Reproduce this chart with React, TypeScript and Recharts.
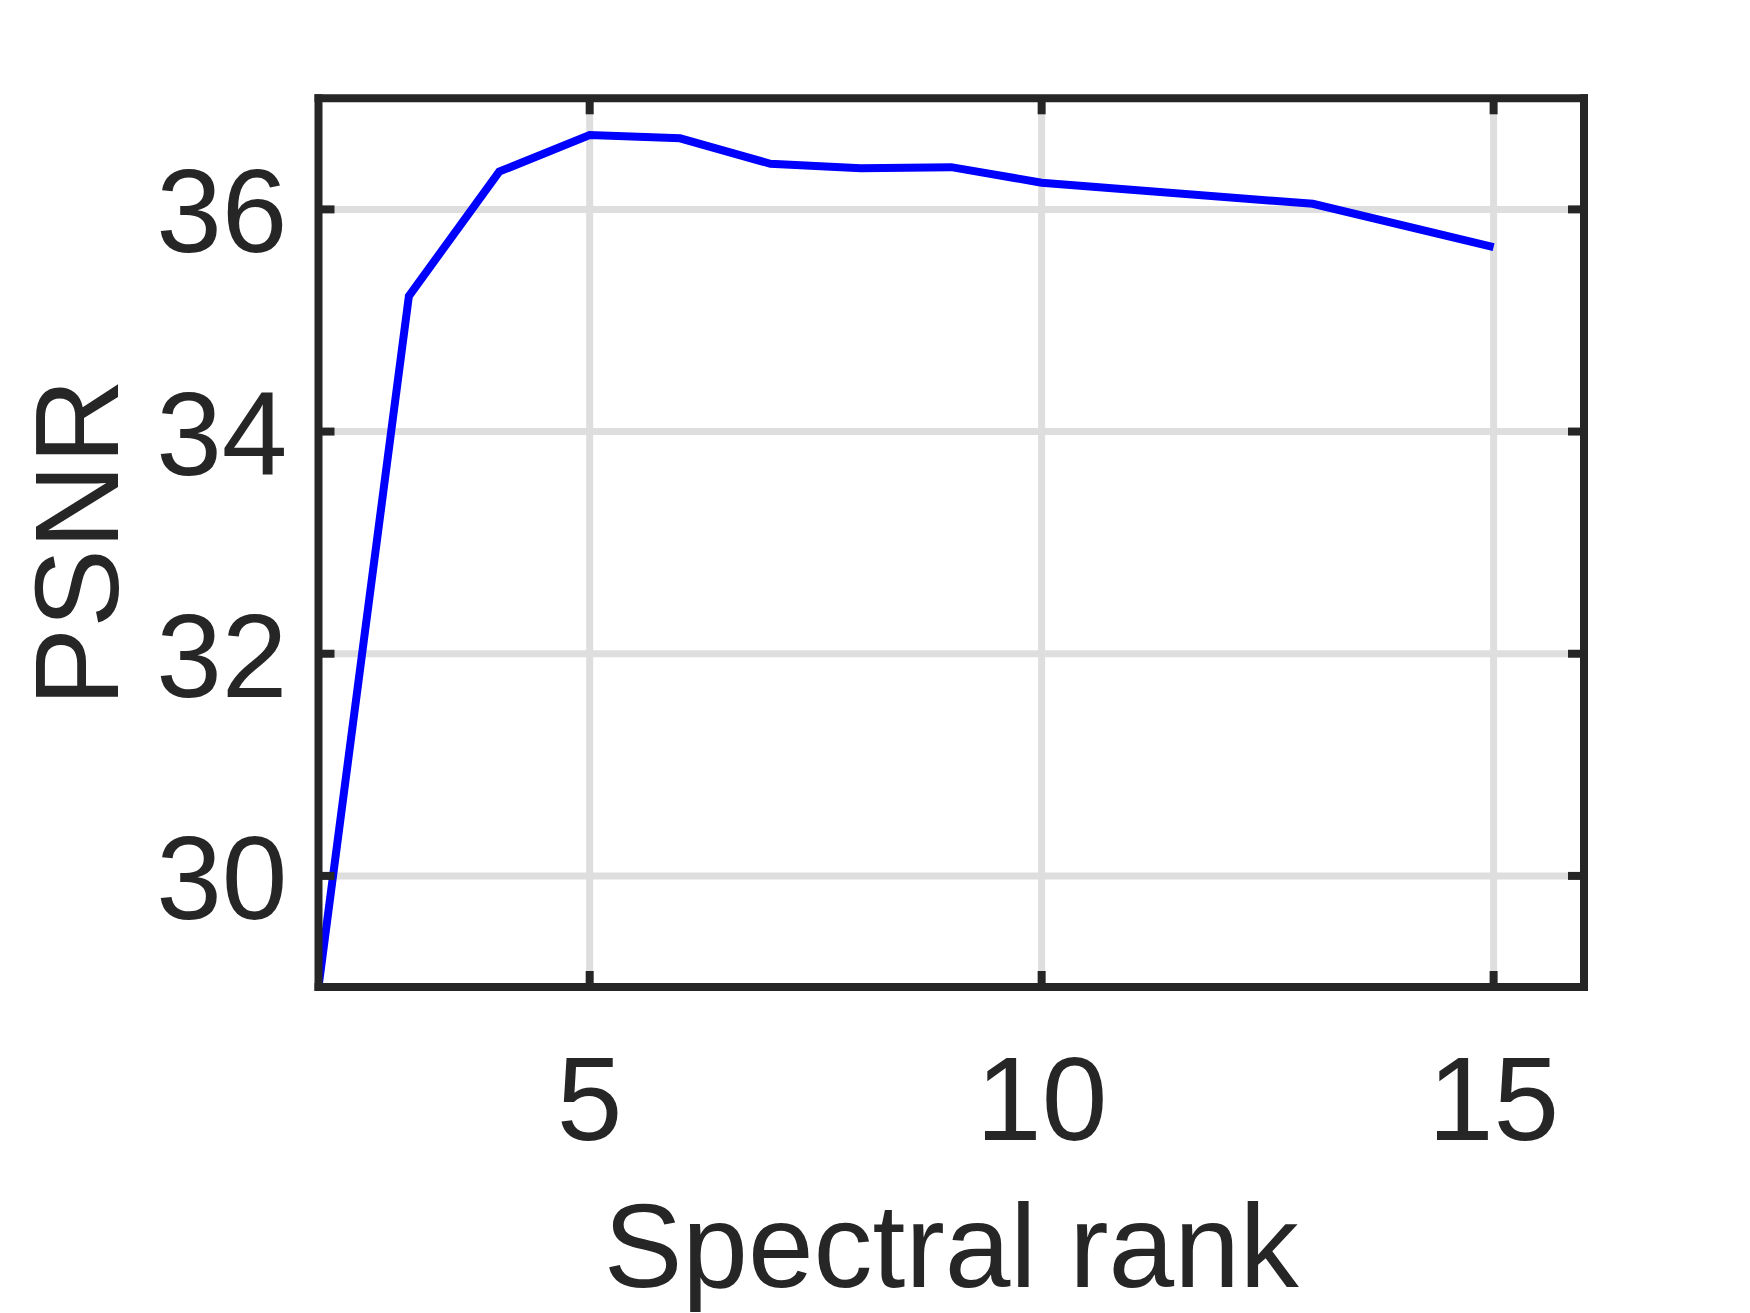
import React from "react";
import {
  LineChart,
  Line,
  XAxis,
  YAxis,
  CartesianGrid,
  Label,
} from "recharts";

const RANKS = [2, 3, 4, 5, 6, 7, 8, 9, 10, 13, 15];
const PSNR = [29.0, 35.22, 36.34, 36.67, 36.64, 36.41, 36.37, 36.38, 36.24, 36.05, 35.66];
const X_TICKS = [5, 10, 15];
const Y_TICKS = [30, 32, 34, 36];
const X_DOMAIN = [2, 16];
const Y_DOMAIN = [29, 37];

const data = RANKS.map((rank, i) => ({ rank, psnr: PSNR[i] }));

const INK = "#262626";
const FONT = "'Liberation Sans', Arial, Helvetica, sans-serif";
const FONT_SIZE = 118;
const TICK_LEN = 16;
const AXIS_W = 8;

const LeftTick = (props: any) => {
  const { x, y, payload } = props;
  return (
    <g>
      <line x1={x} x2={x + TICK_LEN} y1={y} y2={y} stroke={INK} strokeWidth={AXIS_W} />
      <text
        x={x - 31}
        y={y + 43}
        textAnchor="end"
        fontFamily={FONT}
        fontSize={FONT_SIZE}
        fill={INK}
      >
        {payload.value}
      </text>
    </g>
  );
};

const RightTick = (props: any) => {
  const { x, y } = props;
  return <line x1={x - TICK_LEN} x2={x} y1={y} y2={y} stroke={INK} strokeWidth={AXIS_W} />;
};

const BottomTick = (props: any) => {
  const { x, y, payload } = props;
  return (
    <g>
      <line x1={x} x2={x} y1={y - TICK_LEN} y2={y} stroke={INK} strokeWidth={AXIS_W} />
      <text
        x={x}
        y={y + 153}
        textAnchor="middle"
        fontFamily={FONT}
        fontSize={FONT_SIZE}
        fill={INK}
      >
        {payload.value}
      </text>
    </g>
  );
};

const TopTick = (props: any) => {
  const { x, y } = props;
  return <line x1={x} x2={x} y1={y} y2={y + TICK_LEN} stroke={INK} strokeWidth={AXIS_W} />;
};

const axisLine = { stroke: INK, strokeWidth: AXIS_W, strokeLinecap: "square" as const };

export default function App() {
  return (
    <div style={{ position: "absolute", left: 0, top: 0, background: "#fff" }}>
      <LineChart
        width={1750}
        height={1313}
        data={data}
        margin={{ top: 0, right: 0, bottom: 0, left: 0 }}
      >
        <CartesianGrid stroke="#dedede" strokeWidth={7} />
        <XAxis
          dataKey="rank"
          type="number"
          domain={X_DOMAIN}
          ticks={X_TICKS}
          allowDataOverflow
          height={326}
          tickSize={0}
          tickMargin={0}
          tickLine={false}
          axisLine={axisLine}
          tick={(p: any) => <BottomTick {...p} />}
        >
          <Label
            content={({ viewBox }: any) => (
              <text
                x={viewBox.x + viewBox.width / 2}
                y={viewBox.y + 300}
                textAnchor="middle"
                fontFamily={FONT}
                fontSize={FONT_SIZE}
                fill={INK}
              >
                Spectral rank
              </text>
            )}
          />
        </XAxis>
        <XAxis
          xAxisId="top"
          dataKey="rank"
          orientation="top"
          type="number"
          domain={X_DOMAIN}
          ticks={X_TICKS}
          allowDataOverflow
          height={98.3}
          tickSize={0}
          tickMargin={0}
          tickLine={false}
          axisLine={axisLine}
          tick={(p: any) => <TopTick {...p} />}
        />
        <YAxis
          type="number"
          domain={Y_DOMAIN}
          ticks={Y_TICKS}
          allowDataOverflow
          width={318.5}
          tickSize={0}
          tickMargin={0}
          tickLine={false}
          axisLine={axisLine}
          tick={(p: any) => <LeftTick {...p} />}
        >
          <Label
            content={({ viewBox }: any) => {
              const cx = 118;
              const cy = viewBox.y + viewBox.height / 2;
              return (
                <text
                  x={cx}
                  y={cy}
                  transform={`rotate(-90, ${cx}, ${cy})`}
                  textAnchor="middle"
                  fontFamily={FONT}
                  fontSize={FONT_SIZE}
                  fill={INK}
                >
                  PSNR
                </text>
              );
            }}
          />
        </YAxis>
        <YAxis
          yAxisId="right"
          dataKey="psnr"
          orientation="right"
          type="number"
          domain={Y_DOMAIN}
          ticks={Y_TICKS}
          allowDataOverflow
          width={166}
          tickSize={0}
          tickMargin={0}
          tickLine={false}
          axisLine={axisLine}
          tick={(p: any) => <RightTick {...p} />}
        />
        <Line
          type="linear"
          dataKey="psnr"
          stroke="#0000ff"
          strokeWidth={8}
          dot={false}
          activeDot={false}
          isAnimationActive={false}
        />
      </LineChart>
    </div>
  );
}
